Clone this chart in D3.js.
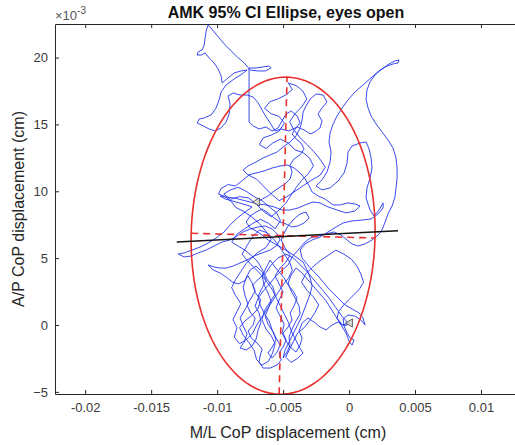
<!DOCTYPE html>
<html lang="en">
<head>
  <meta charset="UTF-8">
  <title>AMK 95% CI Ellipse, eyes open</title>
  <script src="https://d3js.org/d3.v7.min.js"></script>
  <style>
    body { margin: 0; background: #fff; }
    svg { display: block; font-family: 'Liberation Sans', Arial, sans-serif; }
    .axis path, .axis line { stroke: #262626; }
    .axis text { fill: #3a3a3a; font-size: 13px; }
  </style>
</head>
<body>
  <div id="chart"></div>
  <script>
    // CoP trace, [M/L, A/P] in units of 1e-3 cm
    const copPath = [
      [-6.97,9.20],[-6.59,9.42],[-6.14,9.65],[-5.68,10.02],[-5.23,10.32],[-4.85,10.55],[-4.47,10.92],[-4.32,11.44],
      [-4.47,11.97],[-4.17,12.42],[-3.71,12.72],[-3.41,13.16],[-3.64,13.61],[-4.02,13.91],[-4.32,14.29],[-4.02,14.74],
      [-3.71,15.11],[-3.94,15.63],[-4.39,16.01],[-4.77,15.78],[-5.08,15.26],[-5.38,14.74],[-5.83,14.51],[-6.29,14.81],
      [-6.82,14.66],[-7.27,14.89],[-7.58,15.18],[-7.58,15.93],[-7.58,16.68],[-7.58,17.43],[-7.58,18.18],[-7.58,18.77],
      [-7.58,19.22],[-7.05,19.22],[-6.52,19.30],[-6.06,19.37],[-5.91,19.22],[-6.36,19.00],[-6.97,19.00],[-7.50,19.07],
      [-7.95,19.60],[-8.48,20.05],[-8.94,20.50],[-9.39,20.94],[-9.85,21.47],[-10.23,21.92],[-10.53,22.29],[-10.68,22.44],
      [-10.83,21.99],[-10.91,21.47],[-10.98,20.94],[-11.14,20.57],[-11.44,20.42],[-11.52,20.19],[-11.21,20.19],[-10.91,20.35],
      [-10.61,19.97],[-10.23,19.60],[-9.93,19.15],[-9.70,18.63],[-9.62,18.10],[-9.17,18.48],[-8.71,18.85],[-8.18,19.00],
      [-7.73,19.07],[-8.11,18.77],[-8.71,18.40],[-9.32,17.95],[-9.70,17.43],[-9.85,16.83],[-10.08,16.23],[-10.45,15.71],
      [-10.98,15.48],[-11.36,15.41],[-11.52,15.11],[-11.06,14.89],[-10.61,14.66],[-10.15,14.51],[-9.70,14.74],[-9.32,15.18],
      [-9.09,15.78],[-9.02,16.53],[-9.17,17.13],[-8.79,17.35],[-8.26,17.20],[-7.73,17.20],[-7.27,17.05],[-6.89,16.61],
      [-6.59,16.08],[-6.29,15.56],[-5.98,15.11],[-5.61,14.51],[-5.15,14.66],[-4.55,14.51],[-3.94,14.81],[-3.41,14.59],
      [-2.95,14.29],[-2.58,14.44],[-2.20,14.74],[-2.05,15.26],[-2.35,15.78],[-2.05,16.23],[-1.67,16.68],[-1.97,17.20],
      [-2.50,17.28],[-2.95,16.90],[-3.26,16.38],[-3.48,15.93],[-3.56,15.33],[-3.71,14.74],[-4.02,14.14],[-4.47,13.69],
      [-5.00,13.31],[-5.45,12.94],[-5.98,12.72],[-6.52,12.49],[-7.05,12.19],[-7.65,11.89],[-8.03,11.59],[-7.65,11.22],
      [-7.05,11.37],[-6.44,11.52],[-5.83,11.74],[-5.23,11.89],[-4.70,11.97],[-4.17,11.74],[-3.71,11.37],[-3.33,10.92],
      [-3.03,10.40],[-2.80,9.95],[-2.35,9.65],[-1.82,9.42],[-1.21,8.98],[-0.68,8.98],[-0.08,9.13],[0.45,9.05],
      [0.83,8.90],[0.45,8.53],[-0.23,8.38],[-0.91,8.60],[-1.59,8.83],[-2.20,9.13],[-2.73,9.20],[-3.33,8.98],
      [-3.86,8.75],[-4.47,8.60],[-5.08,8.60],[-5.68,8.83],[-6.29,8.98],[-6.89,9.05],[-7.50,9.20],[-8.11,9.35],
      [-8.71,9.50],[-9.32,9.57],[-9.77,9.65],[-9.39,9.42],[-8.86,9.28],[-8.33,9.13],[-7.80,8.98],[-7.35,8.83],
      [-7.88,8.45],[-8.48,8.00],[-9.02,7.48],[-9.47,6.96],[-10.08,6.51],[-10.68,6.13],[-11.29,5.83],[-11.89,5.61],
      [-12.50,5.39],[-12.95,5.31],[-12.50,5.09],[-11.97,5.16],[-11.44,5.39],[-10.83,5.61],[-10.23,5.91],[-9.62,6.21],
      [-9.02,6.36],[-8.48,6.66],[-8.03,6.96],[-7.50,7.18],[-6.89,7.33],[-6.36,7.41],[-5.83,7.18],[-5.45,6.81],
      [-5.23,6.36],[-5.53,5.91],[-5.98,5.61],[-6.59,5.39],[-7.20,5.16],[-7.73,4.86],[-8.26,4.64],[-8.79,4.41],
      [-9.32,4.26],[-9.77,4.26],[-10.23,4.34],[-10.68,4.49],[-10.30,4.11],[-9.77,3.89],[-9.32,3.59],[-8.86,3.22],
      [-8.41,3.07],[-7.95,3.29],[-7.65,3.67],[-7.35,3.14],[-7.12,2.54],[-7.42,2.02],[-7.73,1.50],[-7.50,0.97],
      [-7.12,0.52],[-7.27,0.00],[-7.65,-0.45],[-7.42,-0.97],[-6.97,-1.35],[-6.59,-1.80],[-6.74,-2.32],[-6.82,-2.77],
      [-6.52,-3.22],[-5.98,-3.22],[-5.45,-2.99],[-5.15,-2.62],[-5.30,-2.09],[-5.00,-1.65],[-4.77,-1.12],[-5.00,-0.60],
      [-4.62,-0.15],[-4.32,0.37],[-4.47,0.90],[-4.17,1.42],[-3.94,2.02],[-4.24,2.54],[-4.62,2.99],[-4.92,3.52],
      [-5.30,3.96],[-5.68,4.41],[-5.98,4.86],[-6.29,4.26],[-6.59,3.67],[-6.44,2.99],[-6.14,2.39],[-5.91,1.80],
      [-6.14,1.20],[-6.36,0.67],[-6.14,0.07],[-5.76,-0.52],[-5.53,-1.12],[-5.83,-1.65],[-6.14,-2.09],[-5.83,-2.47],
      [-5.45,-2.02],[-5.23,-1.50],[-5.53,-0.97],[-5.83,-0.37],[-6.06,0.30],[-6.44,0.90],[-6.74,1.50],[-6.89,2.17],
      [-6.59,2.77],[-6.29,3.37],[-6.59,3.96],[-7.05,4.41],[-7.50,4.11],[-7.80,3.52],[-8.03,2.84],[-7.88,2.17],
      [-7.65,1.57],[-7.95,1.05],[-8.26,0.52],[-8.03,-0.07],[-7.73,-0.67],[-7.95,-1.27],[-8.26,-1.72],[-7.80,-1.87],
      [-7.35,-1.57],[-7.05,-1.05],[-6.89,-0.37],[-6.67,0.22],[-6.82,0.90],[-7.12,1.42],[-6.89,2.02],[-6.44,2.62],
      [-5.98,3.14],[-5.53,3.67],[-5.08,4.11],[-4.62,4.49],[-4.32,5.09],[-3.86,5.61],[-3.41,6.13],[-2.95,6.51],
      [-2.35,6.66],[-1.74,6.81],[-1.14,6.96],[-0.61,6.73],[-0.15,6.36],[0.23,6.06],[0.68,5.91],[1.21,6.06],
      [1.74,6.36],[2.20,6.73],[2.50,7.11],[2.73,7.70],[2.95,8.30],[3.26,8.90],[3.48,9.57],[3.56,10.25],
      [3.64,10.99],[3.64,11.74],[3.56,12.49],[3.33,13.24],[2.95,13.84],[2.50,14.44],[2.05,15.03],[1.67,15.63],
      [1.44,16.23],[1.29,16.90],[1.36,17.58],[1.59,18.18],[1.97,18.70],[2.50,19.15],[3.03,19.52],[3.48,19.75],
      [3.79,19.82],[3.71,19.60],[3.33,19.52],[2.88,19.37],[2.35,19.07],[1.74,18.55],[1.06,17.95],[0.45,17.43],
      [-0.08,16.83],[-0.53,16.23],[-0.91,15.63],[-1.21,15.03],[-1.44,14.36],[-1.52,13.69],[-1.36,12.94],[-1.44,12.19],
      [-1.67,11.44],[-2.05,10.85],[-2.50,10.40],[-2.05,10.10],[-1.44,10.25],[-0.83,10.77],[-0.38,11.37],[-0.15,12.12],
      [-0.08,12.94],[0.23,13.39],[0.83,13.61],[1.29,13.69],[1.52,13.16],[1.67,12.49],[1.74,11.74],[1.59,10.99],
      [1.36,10.25],[1.29,9.50],[1.59,8.60],[1.89,8.15],[2.27,8.60],[2.58,9.13],[2.58,8.75],[2.20,8.30],
      [1.67,7.93],[0.98,7.85],[0.23,7.78],[-0.45,7.63],[-0.98,7.33],[-1.59,6.96],[-2.20,6.58],[-2.80,6.36],
      [-3.33,6.06],[-3.71,5.61],[-3.56,5.01],[-3.18,4.56],[-2.80,4.11],[-2.35,3.67],[-1.97,3.22],[-1.59,2.77],
      [-1.21,2.39],[-0.76,1.94],[-0.30,1.50],[0.23,1.20],[0.76,0.90],[1.06,0.52],[1.21,0.00],[0.91,0.37],
      [0.45,0.67],[-0.08,0.75],[-0.45,0.45],[-0.38,-0.07],[-0.15,-0.60],[0.08,-0.97],[0.38,-1.12],[0.23,-1.50],
      [0.00,-1.20],[-0.23,-0.60],[-0.61,0.00],[-0.98,0.60],[-1.36,1.20],[-1.74,1.80],[-2.20,2.32],[-2.65,2.84],
      [-3.11,3.37],[-3.56,3.89],[-4.02,4.26],[-4.39,3.74],[-4.62,3.14],[-4.39,2.54],[-4.09,2.02],[-3.79,1.42],
      [-3.71,0.82],[-4.02,0.30],[-4.32,-0.30],[-4.55,-0.90],[-4.47,-1.50],[-4.70,-2.02],[-5.00,-2.47],[-4.85,-1.87],
      [-4.55,-1.27],[-4.24,-0.67],[-3.94,-0.07],[-3.64,0.52],[-3.41,1.12],[-3.18,1.72],[-2.95,2.32],[-2.80,2.92],
      [-2.95,3.52],[-3.18,4.11],[-3.48,4.71],[-4.02,5.09],[-4.55,5.46],[-5.08,5.76],[-5.61,6.06],[-6.14,6.36],
      [-6.59,6.73],[-7.05,7.03],[-7.50,7.26],[-7.80,7.70],[-7.50,8.15],[-7.05,8.45],[-6.59,8.68],[-6.14,8.38],
      [-5.68,8.00],[-5.23,7.70],[-4.77,7.55],[-4.32,7.33],[-3.86,7.41],[-3.41,7.63],[-3.03,8.00],[-3.26,8.45],
      [-3.71,8.30],[-4.17,7.93],[-4.62,7.41],[-4.92,6.88],[-5.15,6.36],[-4.85,5.76],[-4.47,5.24],[-4.77,4.71],
      [-5.23,4.26],[-5.61,3.67],[-5.30,3.07],[-5.00,2.47],[-5.30,1.87],[-5.53,1.27],[-5.23,0.67],[-4.92,0.07],
      [-5.08,-0.60],[-4.77,-1.20],[-4.39,-1.72],[-4.02,-2.02],[-3.71,-1.50],[-3.56,-0.97],[-3.79,-0.45],[-3.56,0.15],
      [-3.11,0.52],[-2.65,0.22],[-2.20,-0.15],[-1.74,-0.37],[-1.29,0.00],[-0.83,0.22],[-0.38,-0.07],[0.00,0.07],
      [-0.50,0.60],[-1.00,1.30],[-1.50,2.00],[-2.00,2.60],[-2.60,3.30],[-3.10,3.90],[-3.70,4.50],[-4.20,5.00],
      [-4.80,5.30],[-5.40,5.00],[-5.90,4.50],[-6.30,3.90],[-6.80,3.50],[-7.30,3.00],[-7.10,2.40],[-6.70,1.90],
      [-6.90,1.20],[-7.40,0.70],[-7.90,0.30],[-8.30,-0.20],[-8.00,-0.80],[-7.60,-1.30],[-7.20,-1.90],[-7.00,-2.60],
      [-6.60,-3.00],[-6.10,-2.70],[-5.80,-2.10],[-5.60,-1.40],[-5.90,-0.80],[-6.30,-0.30],[-6.60,0.40],[-6.40,1.10],
      [-6.00,1.70],[-5.60,2.30],[-5.80,2.90],[-6.20,3.40],[-6.50,4.00],[-6.90,4.70],[-7.40,5.20],[-7.90,5.60],
      [-8.40,5.90],[-8.90,6.20],[-8.50,6.80],[-7.90,7.20],[-7.30,7.60],[-6.70,7.90],[-6.10,7.60],[-5.60,7.20],
      [-5.20,7.80],[-5.50,8.40],[-6.00,8.80],[-6.60,9.30],[-7.20,9.60],[-7.80,10.00],[-8.40,10.30],[-9.00,10.10],
      [-9.50,9.80],[-9.00,9.40],[-8.30,9.60],[-7.60,9.50],[-7.00,9.00],[-6.50,8.50],[-5.90,8.10],[-5.30,8.60],
      [-4.80,9.10],[-4.40,9.70],[-4.00,10.30],[-3.60,10.80],[-3.10,11.30],[-2.70,11.90],[-3.00,12.50],[-3.50,12.90],
      [-4.10,13.10],[-4.60,13.60],[-5.20,13.90],[-5.80,13.60],[-6.30,13.20],[-6.80,13.50],[-6.50,14.00],[-5.90,14.20],
      [-5.30,14.50],[-4.90,15.10],[-5.30,15.60],[-5.90,15.80],[-6.40,16.20],[-6.00,16.70],[-5.40,16.90],[-4.80,17.20],
      [-4.30,17.60],[-4.60,18.10],[-4.00,17.90],[-3.50,17.50],[-3.20,16.90],[-3.60,16.30],[-4.10,15.80],[-4.50,15.20],
      [-4.20,14.60],[-3.70,14.00],[-3.20,13.50],[-2.70,13.00],[-2.20,12.40],[-1.80,11.80],[-2.20,11.20],[-2.90,10.80],
      [-3.50,10.40],[-4.10,10.00],[-4.70,9.60],[-5.30,9.30],[-5.90,9.80],[-6.50,10.40],[-7.00,10.90],[-7.60,11.20],
      [-8.10,10.80],[-8.60,10.40],[-9.20,10.50],[-9.70,10.20],[-9.90,9.80],[-9.40,9.60],[-8.90,9.20],[-8.60,8.80],
      [-8.00,8.50],[-7.40,8.10],[-6.80,7.60],[-6.30,7.00],[-5.90,6.40],[-6.30,5.80],[-6.80,5.50],[-7.30,5.10],
      [-7.80,4.60],[-8.20,4.00],[-8.60,3.40],[-8.90,2.80],[-8.60,2.20],[-8.20,1.60],[-8.50,1.00],[-8.80,0.40],
      [-8.50,-0.20],[-8.70,-0.90],[-8.30,-1.40],[-7.80,-1.10],[-7.30,-0.60],[-7.00,0.00],[-6.60,0.60],[-6.20,1.20],
      [-5.80,1.80],[-5.40,2.40],[-5.00,3.00],[-4.60,3.50],[-4.30,4.10],[-4.50,4.70],[-4.90,5.30],[-5.30,5.90],
      [-5.70,6.40],[-6.20,6.90],[-6.80,7.10],[-7.30,6.60],[-7.70,6.00],[-8.10,5.30],[-7.70,4.80],[-7.20,4.30],
      [-6.70,3.80],[-6.20,3.20],[-5.80,2.60],[-5.50,2.00],[-5.20,1.40],[-4.90,0.80],[-4.60,0.20],[-4.40,-0.40],
      [-4.10,-1.00],[-3.80,-1.60],[-3.50,-2.10],[-3.90,-2.50],[-4.40,-2.80],[-4.80,-2.40],[-4.50,-1.80],[-4.20,-1.20],
      [-3.90,-0.60],[-3.40,-0.20],[-3.00,0.30],[-2.60,0.90],[-2.30,1.50],[-2.70,2.10],[-3.20,2.60],[-3.60,3.20],
      [-3.30,3.80],[-2.80,4.30],[-2.20,4.80],[-1.60,5.20],[-1.00,5.60],[-0.40,5.30],[0.20,4.90],[0.60,4.40],
      [0.90,3.80],[1.10,3.20],[0.80,2.70],[0.40,2.30],[0.00,1.90],[-0.40,1.50],[-0.80,1.00],[-0.90,0.50],
      [-0.50,0.00],[0.08,0.15]
    ];

    // 95% CI ellipse (1e-3 cm): centre, semi-axes, tilt of the major axis from vertical (deg)
    const ellipseCenter = [-5.00, 6.68];
    const ellipseAxes = [11.86, 6.97];
    const ellipseTilt = 1.45;

    // fitted line endpoints
    const fitX = [-13.06, 3.71];
    const fitY = [6.21, 7.05];

    const xTicks = [-20, -15, -10, -5, 0, 5, 10];
    const xTickLabels = ["-0.02", "-0.015", "-0.01", "-0.005", "0", "0.005", "0.01"];
    const yTicks = [-5, 0, 5, 10, 15, 20];

    const W = 515, H = 445;
    const margin = { top: 24, left: 55, right: -2, bottom: 51 };

    const svg = d3.select("#chart").append("svg")
      .attr("width", W)
      .attr("height", H);

    const x = d3.scaleLinear()
      .domain([-22.29, 12.73])
      .range([margin.left, W - margin.right]);

    const y = d3.scaleLinear()
      .domain([-5.16, 22.51])
      .range([H - margin.bottom, margin.top]);

    const plot = svg.append("g");

    const line = d3.line()
      .x(d => x(d[0]))
      .y(d => y(d[1]));

    plot.append("path")
      .datum(copPath)
      .attr("fill", "none")
      .attr("stroke", "#2336ee")
      .attr("stroke-width", 0.9)
      .attr("stroke-linejoin", "round")
      .attr("d", line);

    // ellipse
    const t = ellipseTilt * Math.PI / 180;
    const major = [Math.sin(t), Math.cos(t)];
    const minor = [Math.cos(t), -Math.sin(t)];
    const ellipsePts = d3.range(0, 361, 3).map(a => {
      const r = a * Math.PI / 180;
      return [
        ellipseCenter[0] + ellipseAxes[0] * Math.cos(r) * major[0] + ellipseAxes[1] * Math.sin(r) * minor[0],
        ellipseCenter[1] + ellipseAxes[0] * Math.cos(r) * major[1] + ellipseAxes[1] * Math.sin(r) * minor[1]
      ];
    });

    plot.append("path")
      .datum(ellipsePts)
      .attr("fill", "none")
      .attr("stroke", "#e8302c")
      .attr("stroke-width", 1.6)
      .attr("d", line.curve(d3.curveLinearClosed));
    line.curve(d3.curveLinear);

    const axesLines = [
      [[ellipseCenter[0] - ellipseAxes[0] * major[0], ellipseCenter[1] - ellipseAxes[0] * major[1]],
       [ellipseCenter[0] + ellipseAxes[0] * major[0], ellipseCenter[1] + ellipseAxes[0] * major[1]]],
      [[ellipseCenter[0] - ellipseAxes[1] * minor[0], ellipseCenter[1] - ellipseAxes[1] * minor[1]],
       [ellipseCenter[0] + ellipseAxes[1] * minor[0], ellipseCenter[1] + ellipseAxes[1] * minor[1]]]
    ];
    plot.selectAll(".ax")
      .data(axesLines)
      .enter().append("path")
      .attr("class", "ax")
      .attr("fill", "none")
      .attr("stroke", "#e8302c")
      .attr("stroke-width", 1.6)
      .attr("stroke-dasharray", "7,5")
      .attr("d", line);

    plot.append("path")
      .datum(fitX.map((v, i) => [v, fitY[i]]))
      .attr("fill", "none")
      .attr("stroke", "#151515")
      .attr("stroke-width", 1.4)
      .attr("d", line);

    // start / end markers
    plot.selectAll(".mark")
      .data([copPath[0], copPath[copPath.length - 1]])
      .enter().append("path")
      .attr("class", "mark")
      .attr("transform", d => `translate(${x(d[0])},${y(d[1])}) rotate(-90)`)
      .attr("d", d3.symbol(d3.symbolTriangle, 28))
      .attr("fill", "#d8d8d8")
      .attr("stroke", "#444")
      .attr("stroke-width", 0.8);

    // axes
    svg.append("g")
      .attr("class", "axis")
      .attr("transform", `translate(0,${H - margin.bottom})`)
      .call(d3.axisBottom(x).tickValues(xTicks)
        .tickFormat((d, i) => xTickLabels[i])
        .tickSizeInner(-4).tickSizeOuter(0).tickPadding(9));

    svg.append("g")
      .attr("class", "axis")
      .attr("transform", `translate(0,${margin.top})`)
      .call(d3.axisTop(x).tickValues(xTicks).tickFormat("")
        .tickSizeInner(-4).tickSizeOuter(0));

    svg.append("g")
      .attr("class", "axis")
      .attr("transform", `translate(${margin.left},0)`)
      .call(d3.axisLeft(y).tickValues(yTicks)
        .tickSizeInner(-4).tickSizeOuter(0).tickPadding(7));

    // exponent label
    const expo = svg.append("text")
      .attr("x", margin.left)
      .attr("y", 20)
      .attr("fill", "#555")
      .style("font-size", "13px");
    expo.append("tspan").text("\u00d710");
    expo.append("tspan").attr("dy", -6).style("font-size", "10px").text("-3");

    svg.append("text")
      .attr("x", (margin.left + W - margin.right) / 2)
      .attr("y", 18)
      .attr("text-anchor", "middle")
      .attr("fill", "#111")
      .style("font-size", "16px")
      .style("font-weight", "bold")
      .text("AMK 95% CI Ellipse, eyes open");

    svg.append("text")
      .attr("x", 288)
      .attr("y", 438)
      .attr("text-anchor", "middle")
      .attr("fill", "#262626")
      .style("font-size", "16px")
      .text("M/L CoP displacement (cm)");

    svg.append("text")
      .attr("transform", "rotate(-90)")
      .attr("x", -209)
      .attr("y", 24)
      .attr("text-anchor", "middle")
      .attr("fill", "#262626")
      .style("font-size", "16px")
      .text("A/P CoP displacement (cm)");
  </script>
</body>
</html>
